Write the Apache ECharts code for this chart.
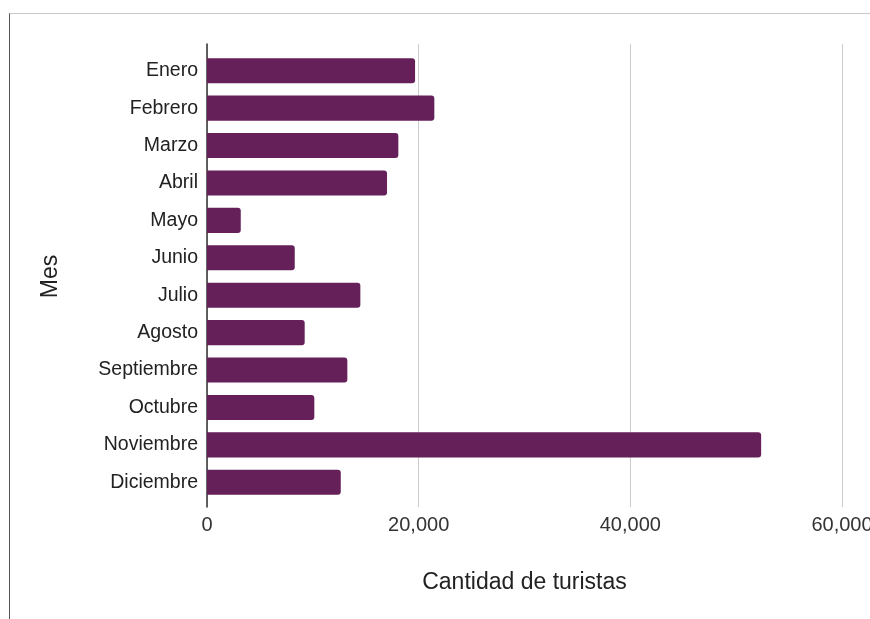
<!DOCTYPE html>
<html><head><meta charset="utf-8">
<script src="https://cdn.jsdelivr.net/npm/echarts@6/dist/echarts.min.js"></script>
<style>
html,body{margin:0;padding:0;background:#fff;}
#c{width:870px;height:619px;position:absolute;left:0;top:0;}
#frame{position:absolute;left:9px;top:13px;width:861px;height:606px;border-top:1px solid #c8c8c8;border-left:1px solid #555;box-sizing:border-box;}
</style></head>
<body>
<div id="frame"></div>
<div id="c"></div>
<script>
const categories = ["Enero","Febrero","Marzo","Abril","Mayo","Junio","Julio","Agosto","Septiembre","Octubre","Noviembre","Diciembre"];
const turistas = [19660,21480,18080,17010,3190,8290,14490,9230,13260,10140,52360,12640];
const xTicks = {min:0, max:60000, interval:20000};

const FONT = 'Liberation Sans, Arial';
const chart = echarts.init(document.getElementById('c'));
chart.setOption({
  animation:false,
  grid:[
    {left:207,right:28,top:44,bottom:112,containLabel:false,outerBoundsMode:'none'},
    {left:207,right:28,top:52,bottom:118,containLabel:false,outerBoundsMode:'none'}
  ],
  xAxis:[{
    gridIndex:0, type:'value', min:xTicks.min, max:xTicks.max, interval:xTicks.interval,
    name:'Cantidad de turistas', nameLocation:'middle', nameGap:64,
    nameTextStyle:{fontFamily:FONT,fontSize:23,color:'#222'},
    axisLine:{show:false}, axisTick:{show:false},
    axisLabel:{fontFamily:FONT,fontSize:20,color:'#333',margin:8,hideOverlap:false,
      formatter:v=>v.toLocaleString('en-US')},
    splitLine:{show:true,lineStyle:{color:'#cccccc',width:1}}
  },{
    gridIndex:1, type:'value', min:xTicks.min, max:xTicks.max, interval:xTicks.interval,
    show:false, splitLine:{show:false}
  }],
  yAxis:[{
    gridIndex:0, type:'value', min:0, max:1,
    axisLine:{show:true,lineStyle:{color:'#333',width:1.5}},
    axisTick:{show:false}, axisLabel:{show:false}, splitLine:{show:false}
  },{
    gridIndex:1, type:'category', data:categories, inverse:true,
    name:'Mes', nameLocation:'middle', nameGap:145, nameRotate:90,
    nameTextStyle:{fontFamily:FONT,fontSize:23,color:'#222'},
    axisLine:{show:false},
    axisTick:{show:false},
    axisLabel:{fontFamily:FONT,fontSize:19.5,color:'#222',margin:9}
  }],
  series:[{
    type:'bar', xAxisIndex:1, yAxisIndex:1, data:turistas, barCategoryGap:'33%',
    itemStyle:{color:'#65205a',borderRadius:[0,3,3,0]}
  }]
});
</script>
</body></html>
